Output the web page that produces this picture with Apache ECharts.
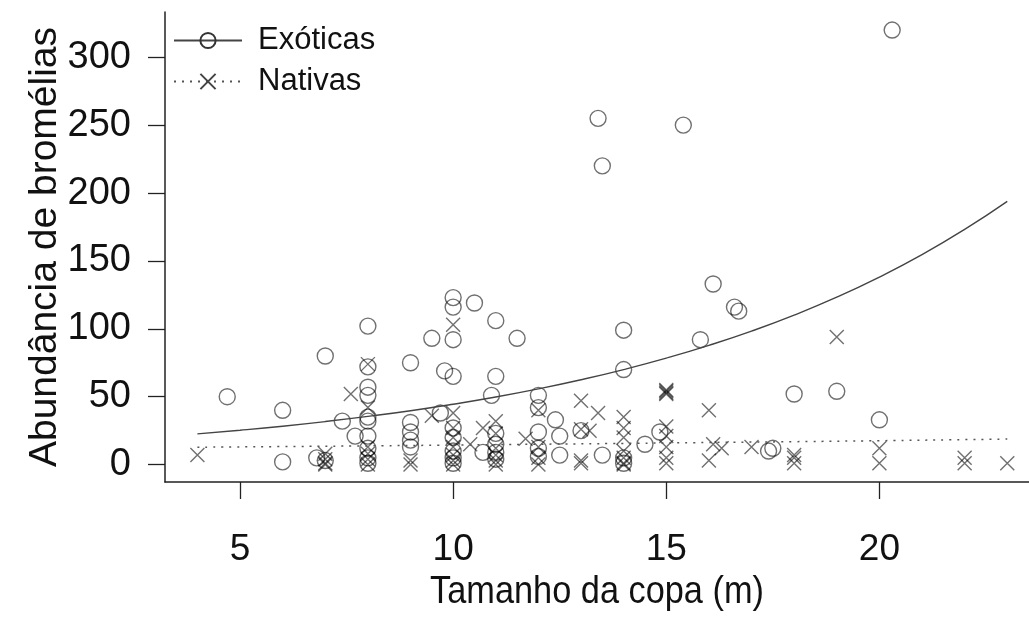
<!DOCTYPE html>
<html>
<head>
<meta charset="utf-8">
<script src="https://cdn.jsdelivr.net/npm/echarts@6/dist/echarts.min.js"></script>
<style>
  html, body { margin: 0; padding: 0; background: #fff; }
  #chart { width: 1029px; height: 634px; }
</style>
</head>
<body>
<div id="chart"></div>
<script>
// Tamanho da copa (m) x abundância de bromélias, por grupo
const exoticas = [
  [4.7, 50], [6, 40], [6, 2], [6.8, 5], [7, 80], [7, 3], [7.4, 32], [7.7, 21],
  [8, 102], [8, 72], [8, 57], [8, 51], [8, 35], [8, 32], [8, 21], [8, 12], [8, 5], [8, 1],
  [9, 75], [9, 31], [9, 24], [9, 18], [9, 13],
  [9.5, 93], [9.7, 38], [9.8, 69],
  [10, 123], [10, 116], [10, 92], [10, 65], [10, 27], [10, 20], [10, 10], [10, 5], [10, 1],
  [10.5, 119], [10.7, 9], [10.9, 51],
  [11, 106], [11, 65], [11, 23], [11, 15], [11, 9], [11, 4],
  [11.5, 93],
  [12, 51], [12, 42], [12, 24], [12, 12], [12, 6],
  [12.4, 33], [12.5, 21], [12.5, 7],
  [13, 25], [13.4, 255], [13.5, 220], [13.5, 7],
  [14, 99], [14, 70], [14, 5], [14, 1],
  [14.5, 15], [14.85, 24],
  [15.4, 250], [15.8, 92],
  [16.1, 133], [16.6, 116], [16.7, 113],
  [17.4, 10], [17.5, 12],
  [18, 52], [19, 54], [20, 33], [20.3, 320]
];

const nativas = [
  [4, 7],
  [7, 8], [7, 4], [7, 1], [7, 0],
  [7.6, 52],
  [8, 74], [8, 42], [8, 13], [8, 8], [8, 4], [8, 0],
  [9, 3], [9, 0],
  [9.5, 36],
  [10, 103], [10, 38], [10, 27], [10, 20], [10, 13], [10, 7], [10, 3], [10, 0],
  [10.4, 15], [10.7, 27],
  [11, 32], [11, 23], [11, 12], [11, 7], [11, 3], [11, 0],
  [11.7, 19],
  [12, 40], [12, 13], [12, 5], [12, 0],
  [13, 47], [13, 26], [13.2, 25], [13, 3], [13, 1],
  [13.4, 38],
  [14, 35], [14, 27], [14, 20], [14, 10], [14, 5], [14, 1], [14, 0],
  [15, 55], [15, 54], [15, 53], [15, 52], [15, 28], [15, 21], [15, 13], [15, 5], [15, 1],
  [16, 40], [16.1, 15], [16.3, 12], [16, 3],
  [17, 13],
  [18, 7], [18, 5], [18, 1],
  [19, 94],
  [20, 12], [20, 1],
  [22, 5], [22, 1],
  [23, 1]
];

// curvas ajustadas
const curvaExoticas = [
  [4, 22.6], [5, 25.3], [6, 28.3], [7, 31.7], [8, 35.5], [9, 39.7], [10, 44.5],
  [11, 49.8], [12, 55.8], [13, 62.5], [14, 70.0], [15, 78.4], [16, 87.8],
  [17, 98.3], [18, 110.1], [19, 123.3], [20, 138.1], [21, 154.6], [22, 173.2], [23, 193.9]
];
const curvaNativas = [
  [4, 12.8], [6, 13.3], [8, 13.8], [10, 14.4], [12, 15.0], [14, 15.6],
  [16, 16.3], [18, 16.9], [20, 17.6], [22, 18.4], [23, 18.8]
];

const xTicks = [5, 10, 15, 20];
const yTicks = [0, 50, 100, 150, 200, 250, 300];
const xTitle = 'Tamanho da copa (m)';
const yTitle = 'Abundância de bromélias';

const FONT = "'Liberation Sans', Arial, Helvetica, sans-serif";
const INK = '#222';
const TEXT = '#111';
const MARK = 'rgba(0,0,0,0.7)';
const CROSS = 'path://M0,0L10,10M10,0L0,10';

const chart = echarts.init(document.getElementById('chart'), null, { renderer: 'canvas' });

const axisLineStyle = { show: true, onZero: false, lineStyle: { color: INK, width: 1.5 } };
const tickStyle = { show: true, length: 17, lineStyle: { color: INK, width: 1.3 } };

chart.setOption({
  animation: false,
  backgroundColor: '#fff',
  grid: { left: 165, top: 12, right: 0, bottom: 152 },
  legend: {
    orient: 'vertical',
    left: 168,
    top: 20,
    itemWidth: 68,
    itemHeight: 19,
    itemGap: 10,
    data: ['Exóticas', 'Nativas'],
    textStyle: { fontFamily: FONT, fontSize: 31, color: TEXT, padding: [0, 0, 0, 11] }
  },
  // título do eixo x em fonte estreita
  graphic: [{
    type: 'text',
    x: 597,
    y: 592,
    scaleX: 0.88,
    silent: true,
    style: {
      text: xTitle,
      font: '39px ' + FONT,
      fill: TEXT,
      align: 'center',
      verticalAlign: 'middle'
    }
  }],
  xAxis: {
    type: 'value',
    min: 3.24,
    max: 23.51,
    splitLine: { show: false },
    axisLine: axisLineStyle,
    axisTick: Object.assign({}, tickStyle, { customValues: xTicks }),
    axisLabel: { customValues: xTicks, fontFamily: FONT, fontSize: 37, color: TEXT, margin: 49 }
  },
  yAxis: {
    type: 'value',
    min: -12.8,
    max: 333.3,
    name: yTitle,
    nameLocation: 'middle',
    nameGap: 100,
    nameMoveOverlap: false,
    nameTextStyle: { fontFamily: FONT, fontSize: 39, color: TEXT },
    splitLine: { show: false },
    axisLine: axisLineStyle,
    axisTick: Object.assign({}, tickStyle, { customValues: yTicks }),
    axisLabel: { customValues: yTicks, fontFamily: FONT, fontSize: 38, color: TEXT, margin: 34 }
  },
  series: [
    {
      name: 'Exóticas',
      type: 'line',
      data: curvaExoticas,
      symbol: 'circle',
      symbolSize: 16,
      showSymbol: false,
      smooth: true,
      itemStyle: { color: 'rgba(0,0,0,0)', borderColor: '#333', borderWidth: 1.4 },
      lineStyle: { color: '#444', width: 1.4, type: 'solid' },
      z: 3
    },
    {
      name: 'Nativas',
      type: 'line',
      data: curvaNativas,
      symbol: CROSS,
      symbolSize: 15,
      showSymbol: false,
      smooth: true,
      itemStyle: { color: 'rgba(0,0,0,0)', borderColor: '#444', borderWidth: 1.4 },
      lineStyle: { color: '#555', width: 1.5, type: [2, 6] },
      z: 3
    },
    {
      name: 'Exóticas',
      type: 'scatter',
      data: exoticas,
      symbol: 'circle',
      symbolSize: 16,
      itemStyle: { color: 'rgba(0,0,0,0)', borderColor: MARK, borderWidth: 1.4 },
      z: 2
    },
    {
      name: 'Nativas',
      type: 'scatter',
      data: nativas,
      symbol: CROSS,
      symbolSize: 14,
      itemStyle: { color: 'rgba(0,0,0,0)', borderColor: MARK, borderWidth: 1.4 },
      z: 2
    }
  ]
});
</script>
</body>
</html>
